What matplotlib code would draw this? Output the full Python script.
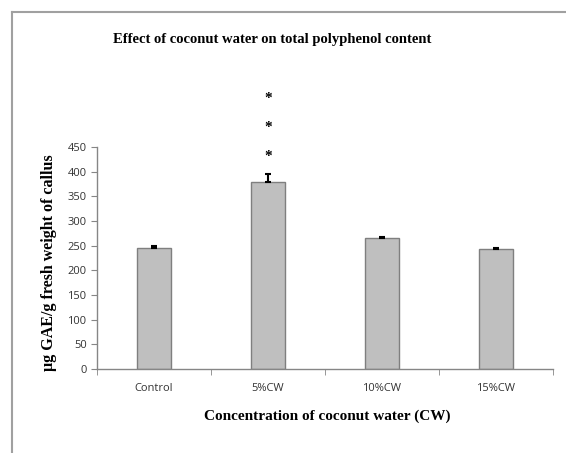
import matplotlib
matplotlib.use("Agg")
import matplotlib.pyplot as plt
from matplotlib.lines import Line2D
import numpy as np

categories = ["Control", "5%CW", "10%CW", "15%CW"]
values = [245, 380, 265, 243]
errors = [5, 15, 2, 2]
yticks = [0, 50, 100, 150, 200, 250, 300, 350, 400, 450]
star_levels = [430, 490, 548]

fig = plt.figure(figsize=(5.66, 4.53), dpi=100)
ax = fig.add_axes([97/566, 1-369/453, (553-97)/566, (369-147)/453])

x = np.arange(len(categories))
ax.bar(x, values, width=0.3, color="#BFBFBF", edgecolor="#7F7F7F", linewidth=1.0, zorder=2)
ax.errorbar(x, values, yerr=[[0]*len(errors), errors], fmt="none", ecolor="black",
            elinewidth=1.5, capsize=2.2, capthick=1.5, zorder=3)

for lvl in star_levels:
    ax.text(x[1], lvl, "*", ha="center", va="center", fontsize=11, fontweight="bold",
            family="Liberation Serif", clip_on=False)

ax.set_xlim(-0.5, len(categories)-0.5)
ax.set_ylim(0, 450)
ax.set_yticks(yticks)
ax.set_xticks(x)
ax.set_xticklabels(categories)
ax.set_xticks(np.arange(-0.5, len(categories), 1.0), minor=True)
ax.tick_params(axis="x", which="major", length=0, pad=10, labelsize=8, labelcolor="#333333")
ax.tick_params(axis="x", which="minor", length=4, color="#868686", direction="out")
ax.tick_params(axis="y", length=4, color="#868686", labelsize=8, labelcolor="#333333", direction="out")
for lab in ax.get_xticklabels() + ax.get_yticklabels():
    lab.set_family("Open Sans")

for s in ["top", "right"]:
    ax.spines[s].set_visible(False)
for s in ["left", "bottom"]:
    ax.spines[s].set_color("#868686")
    ax.spines[s].set_linewidth(1.0)

fig.text(272/566, 1-40/453, "Effect of coconut water on total polyphenol content", ha="center", va="center",
         fontsize=10.5, fontweight="bold", family="Liberation Serif")
fig.text(327/566, 1-416/453, "Concentration of coconut water (CW)", ha="center", va="center",
         fontsize=11, fontweight="bold", family="Liberation Serif")
fig.text(49/566, 1-263/453, "µg GAE/g fresh weight of callus", ha="center", va="center", rotation=90,
         fontsize=11.5, fontweight="bold", family="Liberation Serif")

# outer frame (left and top edges visible)
fig.add_artist(Line2D([11.5/566, 11.5/566], [0, 1-11.5/453], transform=fig.transFigure, color="#A0A0A0", lw=1.5))
fig.add_artist(Line2D([11.5/566, 1], [1-11.5/453, 1-11.5/453], transform=fig.transFigure, color="#A0A0A0", lw=1.5))

fig.savefig("out.png", dpi=100, facecolor="white")
